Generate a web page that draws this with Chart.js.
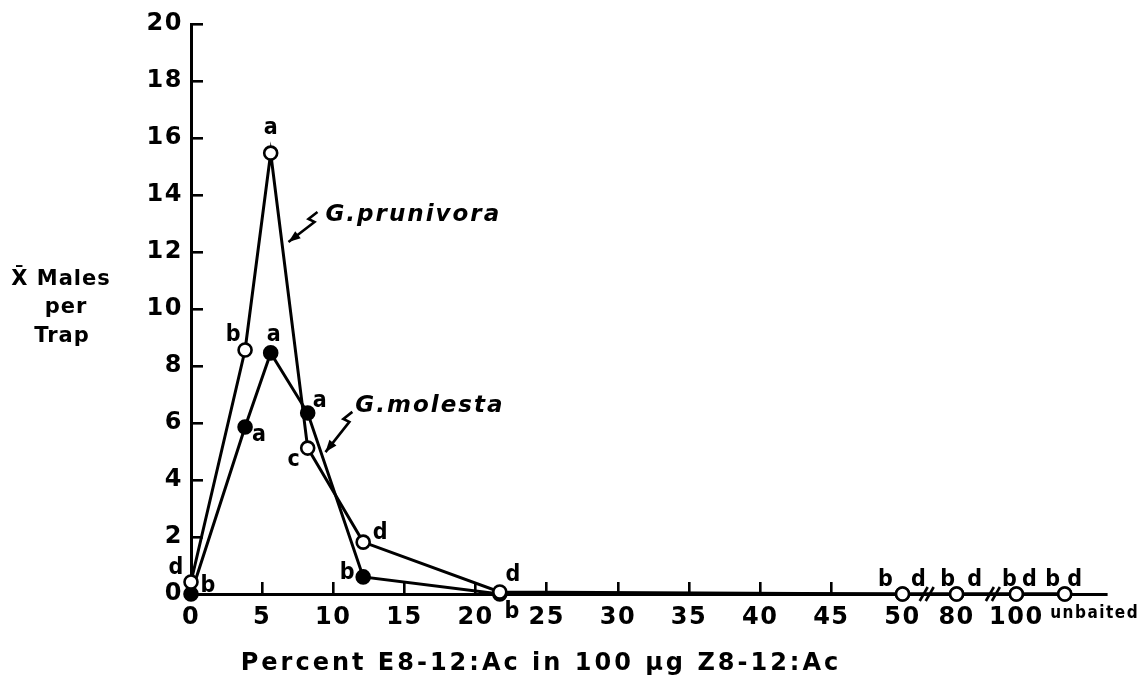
<!DOCTYPE html>
<html>
<head>
<meta charset="utf-8">
<script src="https://cdn.jsdelivr.net/npm/chart.js@4.4.1/dist/chart.umd.min.js"></script>
<style>
html, body { margin: 0; padding: 0; background: #fff; }
#wrap { width: 1141px; height: 675px; position: relative; }
</style>
</head>
<body>
<div id="wrap"><canvas id="chart"></canvas></div>
<script>
// ----------- Data -----------
const doses = [0, 3.8, 5.6, 8.2, 12.1, 21.7, 50, 80, 100, 'unbaited'];
const prunivora = [0.42, 8.56, 15.47, 5.12, 1.82, 0.07, 0, 0, 0, 0];
const molesta = [0, 5.86, 8.46, 6.35, 0.6, 0, 0, 0, 0, 0];
const prunivoraLetters = ['d', 'b', 'a', 'c', 'd', 'd', 'd', 'd', 'd', 'd'];
const molestaLetters = ['b', 'a', 'a', 'a', 'b', 'b', 'b', 'b', 'b', 'b'];
const xTickLabels = ['0', '5', '10', '15', '20', '25', '30', '35', '40', '45', '50', '80', '100', 'unbaited'];
const yTickValues = [0, 2, 4, 6, 8, 10, 12, 14, 16, 18, 20];

// axis is linear up to 50, then broken: where the later groups sit on it
const breakPos = { 80: 53.8, 100: 58.0, unbaited: 61.4 };
const unbaitedLabelPos = 63.5;
function axisPos(v) { return (typeof v === 'number' && v <= 50) ? v : breakPos[v]; }
function tickPos(lbl) { return lbl === 'unbaited' ? unbaitedLabelPos : axisPos(+lbl); }

// where each letter sits relative to its point (px)
const prunivoraLetterOffsets = [[-15,-14],[-12,-15],[0,-25],[-14,12],[17,-9],[13,-17],[16,-14],[18,-14],[13,-14],[10,-14]];
const molestaLetterOffsets = [[17,-8],[14,8],[3,-18],[12,-12],[-16,-4],[12,18],[-17,-14],[-9,-14],[-7,-14],[-12,-14]];

// species labels with squiggly arrows (data coords)
const notes = [
    { text: 'G.prunivora', x: 9.45, y: 13.3, sq: [-8, -3], tipX: 6.85, tipY: 12.35 },
    { text: 'G.molesta', x: 11.55, y: 6.6, sq: [-3, 6], tipX: 9.45, tipY: 4.98 }
];

const FAM = '"DejaVu Sans", sans-serif';
const COND = '"DejaVu Sans Condensed", "DejaVu Sans", sans-serif';

// ----------- Plugins -----------
const letterPlugin = {
    id: 'letters',
    afterDatasetsDraw(chart) {
        const c = chart.ctx;
        c.save();
        c.font = 'bold 23px ' + COND;
        c.letterSpacing = '0px';
        c.fillStyle = '#000';
        c.textAlign = 'center';
        c.textBaseline = 'middle';
        chart.data.datasets.forEach((ds, di) => {
            chart.getDatasetMeta(di).data.forEach((pt, i) => {
                const o = ds.letterOffsets[i];
                c.fillText(ds.letters[i], pt.x + o[0], pt.y + o[1]);
            });
        });
        c.restore();
    }
};

const notesPlugin = {
    id: 'notes',
    afterDatasetsDraw(chart) {
        const c = chart.ctx, xs = chart.scales.x, ys = chart.scales.y;
        c.save();
        c.font = 'italic bold 23px ' + FAM;
        c.letterSpacing = '2px';
        c.fillStyle = '#000';
        c.strokeStyle = '#000';
        c.textAlign = 'left';
        c.textBaseline = 'middle';
        notes.forEach(n => {
            const tx = xs.getPixelForValue(n.x), ty = ys.getPixelForValue(n.y);
            c.fillText(n.text, tx, ty);
            const sx = tx + n.sq[0], sy = ty + n.sq[1];
            const px = xs.getPixelForValue(n.tipX), py = ys.getPixelForValue(n.tipY);
            c.lineWidth = 2.6;
            c.beginPath();
            c.moveTo(sx, sy);
            c.lineTo(sx - 9, sy + 7);
            c.lineTo(sx - 3, sy + 10);
            c.lineTo(px, py);
            c.stroke();
            // arrow head
            const ang = Math.atan2(py - (sy + 10), px - (sx - 3));
            c.beginPath();
            c.moveTo(px, py);
            c.lineTo(px - 12 * Math.cos(ang) + 4.5 * Math.sin(ang), py - 12 * Math.sin(ang) - 4.5 * Math.cos(ang));
            c.lineTo(px - 12 * Math.cos(ang) - 4.5 * Math.sin(ang), py - 12 * Math.sin(ang) + 4.5 * Math.cos(ang));
            c.closePath();
            c.fill();
        });
        c.restore();
    }
};

const breakPlugin = {
    id: 'breaks',
    afterDatasetsDraw(chart) {
        const c = chart.ctx, xs = chart.scales.x, y0 = chart.scales.y.getPixelForValue(0);
        c.save();
        c.strokeStyle = '#000';
        c.lineWidth = 2.6;
        [51.7, 56.35].forEach(p => {
            const cx = xs.getPixelForValue(p);
            [-3, 3].forEach(d => {
                c.beginPath();
                c.moveTo(cx + d - 4, y0 + 7);
                c.lineTo(cx + d + 4, y0 - 7);
                c.stroke();
            });
        });
        c.restore();
    }
};

const titlePlugin = {
    id: 'axisTitles',
    afterDraw(chart) {
        const c = chart.ctx;
        c.save();
        c.fillStyle = '#000';
        c.textAlign = 'center';
        c.textBaseline = 'alphabetic';
        c.font = 'bold 21px ' + FAM;
        c.letterSpacing = '1px';
        c.fillText('X\u0304 Males', 61, 285);
        c.fillText('per', 66, 313);
        c.fillText('Trap', 62, 342);
        c.font = 'bold 24px ' + FAM;
        c.letterSpacing = '3px';
        c.fillText('Percent E8-12:Ac in 100 \u03bcg Z8-12:Ac', 541, 670);
        c.restore();
    }
};

const spacingPlugin = {
    id: 'spacing',
    beforeDraw(chart) { chart.ctx.letterSpacing = '1.5px'; }
};

// ----------- Chart -----------
const numFont = { family: FAM, weight: 'bold', size: 24 };

new Chart(document.getElementById('chart'), {
    type: 'line',
    data: {
        datasets: [
            {
                label: 'G. prunivora',
                data: doses.map((d, i) => ({ x: axisPos(d), y: prunivora[i] })),
                letters: prunivoraLetters,
                letterOffsets: prunivoraLetterOffsets,
                borderColor: '#000', borderWidth: 3,
                pointRadius: 6.5, pointBorderWidth: 2.6,
                pointBackgroundColor: '#fff', pointBorderColor: '#000',
                tension: 0, clip: false
            },
            {
                label: 'G. molesta',
                data: doses.map((d, i) => ({ x: axisPos(d), y: molesta[i] })),
                letters: molestaLetters,
                letterOffsets: molestaLetterOffsets,
                borderColor: '#000', borderWidth: 3,
                pointRadius: 6.5, pointBorderWidth: 2.6,
                pointBackgroundColor: '#000', pointBorderColor: '#000',
                tension: 0, clip: false
            }
        ]
    },
    options: {
        responsive: true,
        maintainAspectRatio: false,
        animation: false,
        layout: { padding: { top: 24, right: 35, bottom: 0, left: 0 } },
        plugins: { legend: { display: false }, tooltip: { enabled: false } },
        scales: {
            x: {
                type: 'linear', min: 0, max: 64.3,
                afterBuildTicks: s => { s.ticks = xTickLabels.map(l => ({ value: tickPos(l) })); },
                afterFit: s => { s.height = 81; s.paddingLeft = 0; s.paddingRight = 0; },
                grid: {
                    drawOnChartArea: false, drawTicks: true, tickLength: -12, lineWidth: 2.6,
                    color: c => (c.index > 0 && c.index < 10) ? '#000' : 'rgba(0,0,0,0)'
                },
                border: { display: true, color: '#000', width: 3 },
                ticks: {
                    padding: 21, color: '#000', maxRotation: 0, autoSkip: false,
                    callback: (v, i) => xTickLabels[i],
                    font: c => (c.index === xTickLabels.length - 1)
                        ? { family: COND, weight: 'bold', size: 17 } : numFont
                },
                title: { display: false }
            },
            y: {
                min: 0, max: 20,
                afterBuildTicks: s => { s.ticks = yTickValues.map(v => ({ value: v })); },
                afterFit: s => { s.width = 191; s.paddingTop = 0; s.paddingBottom = 0; },
                grid: { drawOnChartArea: false, drawTicks: true, tickLength: -12, lineWidth: 2.6, color: '#000' },
                border: { display: true, color: '#000', width: 3 },
                ticks: { padding: 20, color: '#000', font: numFont }
            }
        }
    },
    plugins: [spacingPlugin, letterPlugin, notesPlugin, breakPlugin, titlePlugin]
});
</script>
</body>
</html>
